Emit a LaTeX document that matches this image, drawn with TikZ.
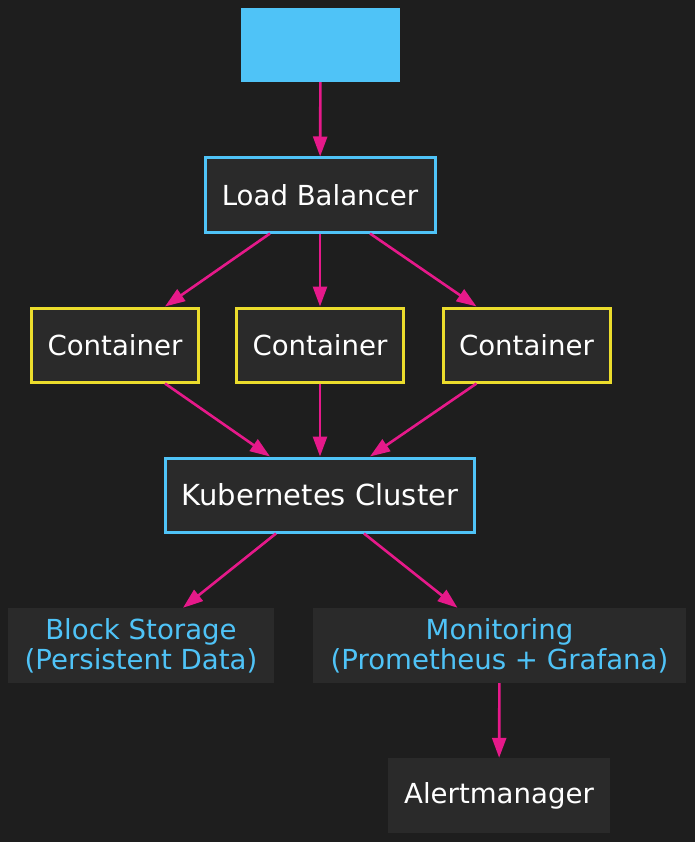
\documentclass[tikz,border=0pt]{standalone}
\usepackage{fontspec}
\setmainfont{DejaVu Sans}
\usetikzlibrary{arrows.meta}
\definecolor{bgc}{HTML}{1E1E1E}
\definecolor{boxc}{HTML}{2A2A2A}
\definecolor{skyc}{HTML}{4FC3F7}
\definecolor{yelc}{HTML}{EBDC2C}
\definecolor{magc}{HTML}{E6198A}
\tikzset{
  base/.style={rectangle, inner sep=0pt, fill=boxc, text=white, minimum height=74pt,
    font=\fontsize{27.6}{30}\selectfont, align=center},
  bluebox/.style={base, draw=skyc, line width=3pt},
  yelbox/.style={base, draw=yelc, line width=3pt, minimum width=167pt},
  plainbox/.style={base, minimum height=75pt},
  conn/.style={draw=magc, line width=2.6pt, -{Triangle[length=20pt,width=14pt]}},
}
\begin{document}
\begin{tikzpicture}[x=1pt,y=-1pt]
\fill[bgc] (0,0) rectangle (695,842);
\useasboundingbox (0,0) rectangle (695,842);
\node[rectangle, fill=skyc, minimum width=159pt, minimum height=74pt, inner sep=0pt] (top) at (320.5,45) {};
\node[bluebox, minimum width=230pt] (lb) at (320,195) {Load Balancer};
\node[yelbox] (c1) at (115,345) {Container};
\node[yelbox] (c2) at (320,345) {Container};
\node[yelbox] (c3) at (526.5,345) {Container};
\node[bluebox, minimum width=309pt, font=\fontsize{29}{30}\selectfont] (k) at (320,495) {Kubernetes Cluster};
\node[plainbox, minimum width=266pt, text=skyc] (bs) at (141,645.5) {Block Storage\\(Persistent Data)};
\node[plainbox, minimum width=373pt, text=skyc] (mon) at (499.5,645.5) {Monitoring\\(Prometheus + Grafana)};
\node[plainbox, minimum width=222pt] (am) at (499,795.5) {Alertmanager};

\draw[conn] (top) -- (lb);
\draw[conn] ([xshift=-50pt]lb.south) -- ([xshift=50pt]c1.north);
\draw[conn] (lb) -- (c2);
\draw[conn] ([xshift=50pt]lb.south) -- ([xshift=-50pt]c3.north);
\draw[conn] ([xshift=50pt]c1.south) -- ([xshift=-50pt]k.north);
\draw[conn] (c2) -- (k);
\draw[conn] ([xshift=-50pt]c3.south) -- ([xshift=50pt]k.north);
\draw[conn] ([xshift=-44pt]k.south) -- ([xshift=42pt]bs.north);
\draw[conn] ([xshift=44pt]k.south) -- ([xshift=-42pt]mon.north);
\draw[conn] (mon) -- (am);
\end{tikzpicture}
\end{document}
